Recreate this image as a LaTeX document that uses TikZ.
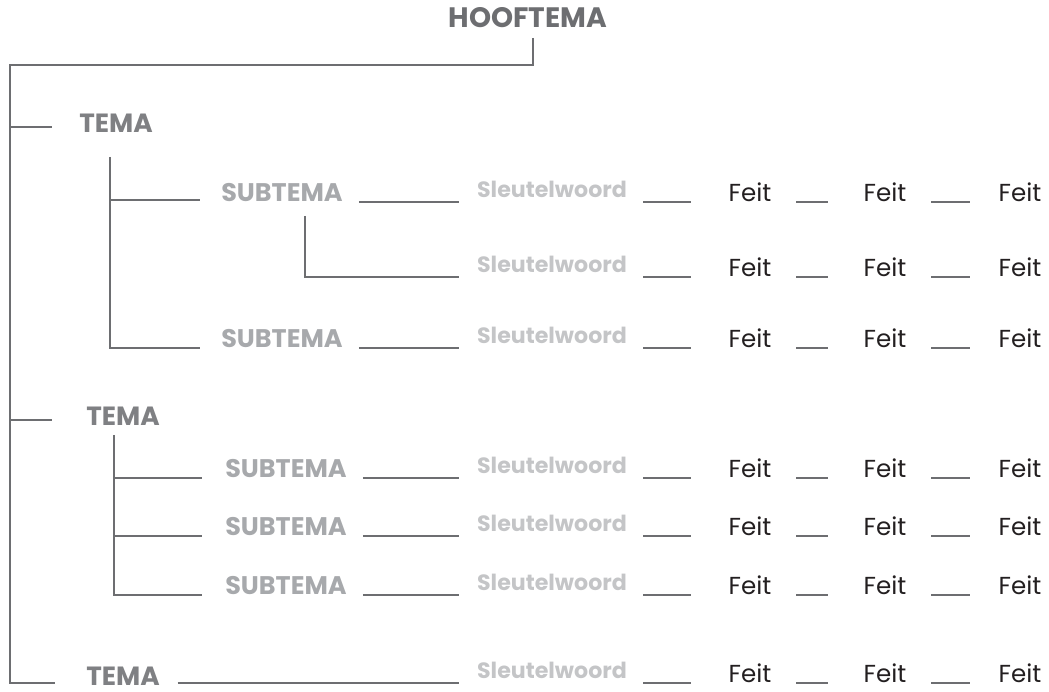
\documentclass[tikz,border=0pt]{standalone}
\usepackage{fontspec}
\setmainfont{Poppins}
\usepackage{xcolor}
\definecolor{lgrijs}{HTML}{6D6E71}
\definecolor{tgrijs}{HTML}{7F8083}
\definecolor{sgrijs}{HTML}{A7A9AC}
\definecolor{wgrijs}{HTML}{C4C5C7}
\definecolor{fzwart}{HTML}{231F20}

\begin{document}
\begin{tikzpicture}[x=0.02cm, y=-0.02cm,
	lijn/.style = {line width = 1.7pt, draw = lgrijs},
	hoofd/.style = {anchor = base, inner sep = 0pt, text = lgrijs, font = \bfseries\fontsize{16}{16}\selectfont},
	tema/.style = {anchor = base, inner sep = 0pt, text = tgrijs, font = \bfseries\fontsize{15}{15}\selectfont},
	subtema/.style = {anchor = base, inner sep = 0pt, text = sgrijs, font = \bfseries\fontsize{14.5}{14.5}\selectfont},
	sleutel/.style = {anchor = base, inner sep = 0pt, text = wgrijs, font = \bfseries\fontsize{12.6}{12.6}\selectfont},
	feit/.style = {anchor = base, inner sep = 0pt, text = fzwart, font = \fontsize{14}{14}\selectfont}]
	\useasboundingbox (0,0) rectangle (1049,692);
	% sleutelwoorden en feiten
	\foreach \r/\y in {a/202, b/277, c/348, d/478, e/536, f/595, g/683} {
		\node[sleutel] (w\r) at (552,\y-4) {Sleutelwoord};
		\node[feit] (f\r1) at (750,\y) {Feit};
		\node[feit] (f\r2) at (885,\y) {Feit};
		\node[feit] (f\r3) at (1020,\y) {Feit};
		\draw[lijn] ([xshift=9pt]w\r.east |- f\r1.base) -- ([xshift=-21pt]f\r1.base west);
		\draw[lijn] ([xshift=14pt]f\r1.base east) -- ([xshift=-20pt]f\r2.base west);
		\draw[lijn] ([xshift=14pt]f\r2.base east) -- ([xshift=-16pt]f\r3.base west);
	}
	% hooftema
	\node[hoofd] (hoof) at (528,28) {HOOFTEMA};
	\draw[lijn] ([xshift=0.1cm, yshift=-0.2cm]hoof.base) |- (10,65) -- (10,683) -- (55,683);
	% tema-1
	\node[tema] (ta) at (116,133) {TEMA};
	\draw[lijn] (10,127) -- (52,127);
	\draw[lijn] (110,157) -- (110,348) -- (200,348);
	\draw[lijn] (110,200) -- (200,200);
	\node[subtema] (sa) at (282,202) {SUBTEMA};
	\node[subtema] (sc) at (282,348) {SUBTEMA};
	\draw[lijn] ([xshift=9pt]sa.base east |- fa1.base) -- ([xshift=-10pt]wa.west |- fa1.base);
	\draw[lijn] (305,216) |- ([xshift=-10pt]wb.west |- fb1.base);
	\draw[lijn] ([xshift=9pt]sc.base east |- fc1.base) -- ([xshift=-10pt]wc.west |- fc1.base);
	% tema-2
	\node[tema] (tb) at (123,426) {TEMA};
	\draw[lijn] (10,420) -- (52,420);
	\draw[lijn] (114,435) -- (114,595) -- (202,595);
	\draw[lijn] (114,478) -- (202,478);
	\draw[lijn] (114,536) -- (202,536);
	\foreach \r/\y in {d/478, e/536, f/595} {
		\node[subtema] (s\r) at (286,\y) {SUBTEMA};
		\draw[lijn] ([xshift=9pt]s\r.base east) -- ([xshift=-10pt]w\r.west |- f\r1.base);
	}
	% tema-3
	\node[tema] (tc) at (123,685) {TEMA};
	\draw[lijn] ([xshift=10pt]tc.base east |- fg1.base) -- ([xshift=-10pt]wg.west |- fg1.base);
\end{tikzpicture}
\end{document}
